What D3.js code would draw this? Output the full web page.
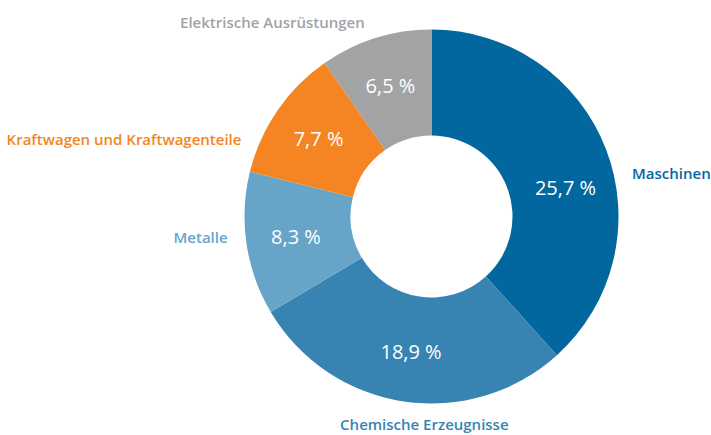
<!DOCTYPE html>
<html>
<head>
<meta charset="utf-8">
<script src="https://cdn.jsdelivr.net/npm/d3@7"></script>
<style>
  body { margin: 0; background: #fff; }
  svg text { font-family: "Open Sans", sans-serif; }
</style>
</head>
<body>
<svg width="711" height="435"></svg>
<script>
// Categories and shares (percent)
const categories = ["Maschinen", "Chemische Erzeugnisse", "Metalle", "Kraftwagen und Kraftwagenteile", "Elektrische Ausrüstungen"];
const shares = [25.7, 18.9, 8.3, 7.7, 6.5];
const colors = ["#02679f", "#3784b2", "#66a5c8", "#f48522", "#a2a3a5"];

// where the category names sit (angle in degrees, clockwise from top)
const nameAngles = [78, 182, 264, 292, 341];

let svg = d3.select("svg"),
    cx = 431.5,
    cy = 216.5,
    outerR = 187,
    innerR = 81;

let g = svg.append("g").attr("transform", "translate(" + cx + "," + cy + ")");

let data = categories.map((c, i) => ({ name: c, value: shares[i], color: colors[i], nameAngle: nameAngles[i] }));

let pie = d3.pie().sort(null).value(d => d.value);
let arc = d3.arc().innerRadius(innerR).outerRadius(outerR);
let arcs = pie(data);

g.selectAll("path")
    .data(arcs)
    .enter()
    .append("path")
    .attr("d", arc)
    .attr("fill", d => d.data.color);

// value labels inside the ring
let valueR = 137;
let fmt = v => d3.format(".1f")(v).replace(".", ",") + " %";

g.selectAll(".value")
    .data(arcs)
    .enter()
    .append("text")
    .attr("class", "value")
    .attr("transform", function(d) {
        // Maschinen label sits a bit lower than the slice middle
        let a = d.index === 0 ? d.data.nameAngle * Math.PI / 180 : (d.startAngle + d.endAngle) / 2;
        let p = d3.pointRadial(a, valueR);
        return "translate(" + p[0] + "," + p[1] + ")";
    })
    .attr("dy", "0.35em")
    .attr("text-anchor", "middle")
    .attr("fill", "#fff")
    .style("font-size", "20px")
    .text(d => fmt(d.data.value));

// category names outside
let nameR = 205;
function anchorOf(d) {
    let s = Math.sin(d.data.nameAngle * Math.PI / 180);
    if (s > 0.2) return "start";
    if (s < -0.2) return "end";
    return "middle";
}

g.selectAll(".name")
    .data(arcs)
    .enter()
    .append("text")
    .attr("class", "name")
    .attr("transform", function(d) {
        let p = d3.pointRadial(d.data.nameAngle * Math.PI / 180, nameR);
        return "translate(" + p[0] + "," + p[1] + ")";
    })
    // bottom label hangs below the ring
    .attr("dy", d => (anchorOf(d) === "middle" && Math.cos(d.data.nameAngle * Math.PI / 180) < 0) ? "0.6em" : "0.35em")
    .attr("text-anchor", anchorOf)
    .attr("fill", d => d.data.color)
    .style("font-size", "15px")
    .style("font-weight", 600)
    .text(d => d.data.name);
</script>
</body>
</html>
